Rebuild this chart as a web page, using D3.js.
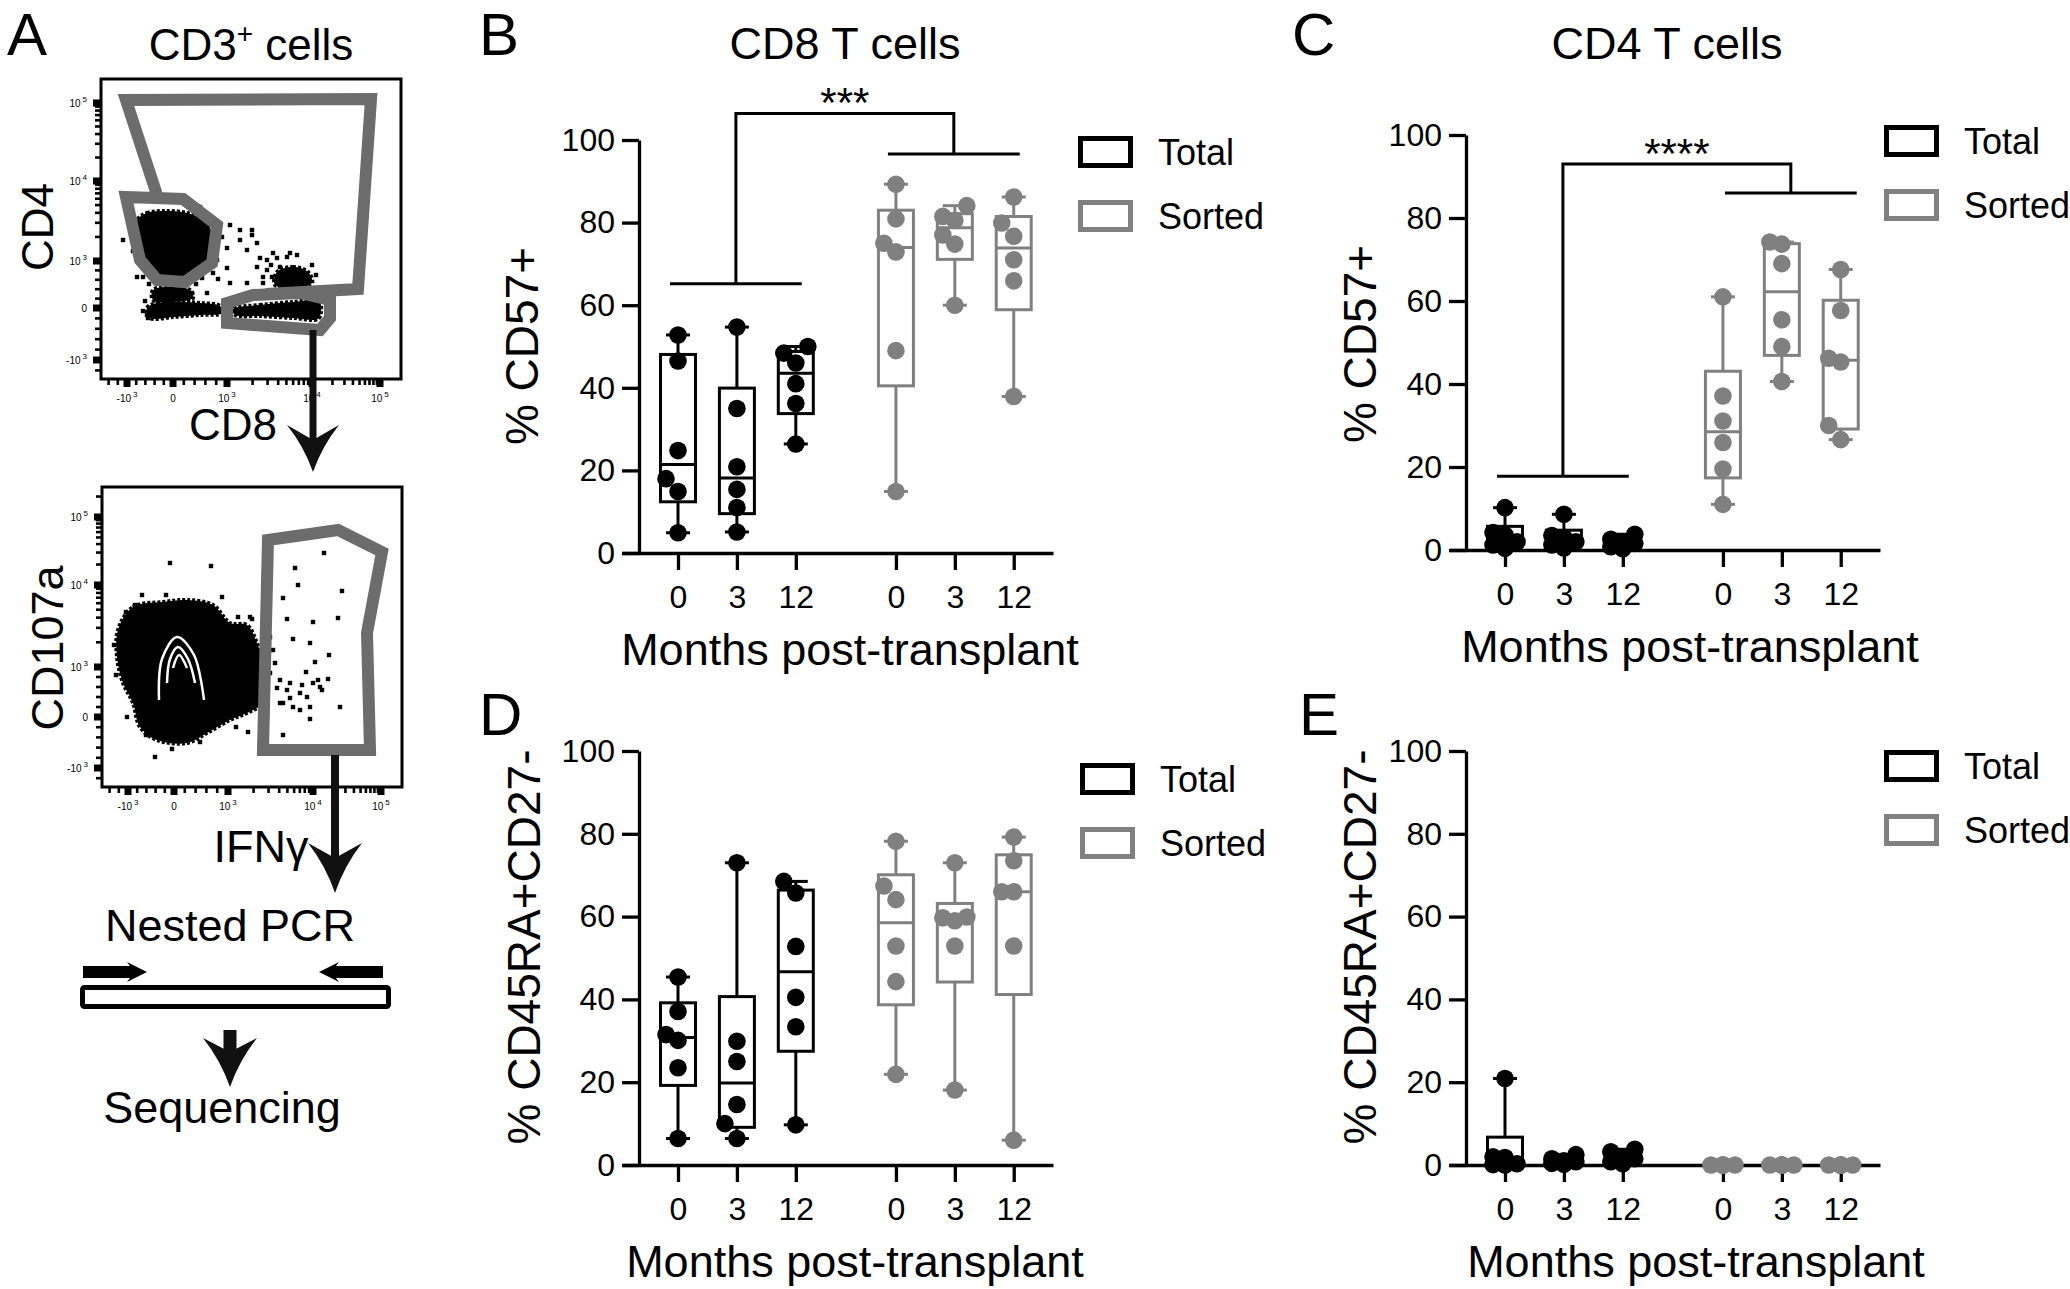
<!DOCTYPE html>
<html><head><meta charset="utf-8">
<script src="https://cdn.jsdelivr.net/npm/d3@7"></script>
<style>
html,body{margin:0;padding:0;background:#fff;}
svg{display:block;font-family:"Liberation Sans",Arial,Helvetica,sans-serif;}
</style></head><body>
<svg id="fig" width="2070" height="1289"></svg>
<script>
// ---------------- DATA ----------------
const months = ["0", "3", "12"];
const groups = ["Total", "Sorted"];
const yTicks = [0, 20, 40, 60, 80, 100];

// B: CD8 T cells, % CD57+  (one array per time point: 0, 3, 12 months)
const cd8CD57Total  = [[52.8, 46.5, 24.8, 18.0, 14.9, 4.9], [54.7, 35.0, 20.9, 15.4, 11.0, 5.1], [50.0, 48.4, 46.0, 41.0, 36.2, 26.4]];
const cd8CD57Sorted = [[89.3, 80.9, 75.0, 72.9, 49.0, 14.9], [84.1, 81.5, 80.5, 77.0, 74.8, 60.0], [86.2, 79.9, 76.7, 71.0, 65.9, 37.9]];
// C: CD4 T cells, % CD57+
const cd4CD57Total  = [[10.2, 4.2, 3.6, 2.0, 1.2, 0.4], [8.6, 3.5, 3.0, 2.0, 1.2, 0.5], [3.8, 2.6, 2.0, 1.6, 0.8, 0.3]];
const cd4CD57Sorted = [[61.0, 37.1, 31.1, 25.9, 19.5, 11.0], [74.2, 73.7, 69.0, 55.5, 49.0, 40.6], [67.6, 57.7, 46.2, 45.3, 30.0, 26.6]];
// D: CD8, % CD45RA+CD27-
const cd8TemraTotal  = [[45.4, 37.1, 31.5, 30.1, 23.5, 6.4], [73.0, 29.9, 25.0, 14.6, 10.0, 6.4], [68.5, 65.7, 52.8, 40.5, 33.4, 9.7]];
const cd8TemraSorted = [[78.2, 67.4, 64.1, 52.9, 44.3, 21.9], [73.0, 59.9, 59.7, 59.0, 52.9, 18.1], [79.2, 73.5, 66.0, 66.0, 52.9, 6.0]];
// E: CD4, % CD45RA+CD27-
const cd4TemraTotal  = [[20.9, 2.0, 1.8, 0.3, 0.1, 0.0], [2.5, 1.5, 1.0, 0.8, 0.4, 0.2], [3.8, 3.2, 2.0, 1.5, 0.8, 0.3]];
const cd4TemraSorted = [[0, 0, 0, 0, 0, 0], [0, 0, 0, 0, 0, 0], [0, 0, 0, 0, 0, 0]];

// significance brackets: [left bar value, top bar value, right bar value]
const bracketCD8 = [65.2, 106.4, 96.6];
const bracketCD4 = [17.8, 93.0, 86.0];
const starsCD8 = "***";
const starsCD4 = "****";

// Panel A flow plots (plot-local units, 0..300 from top-left of the frame)
const flowTickLabelsY1 = [["5", 24], ["4", 102], ["3", 182], ["0", 229], ["-3", 281]];
const flowTickLabelsY2 = [["5", 30], ["4", 98], ["3", 180], ["0", 230], ["-3", 281]];
const flowTickLabelsX  = [["-3", 26], ["0", 72], ["3", 126], ["4", 211], ["5", 279]];

const cd4Cloud = [[36,141],[46,134],[66,132],[86,134],[102,141],[111,154],[109,174],[99,191],[79,198],[56,196],[39,184],[34,164]];
const cd8Cloud = [[132,230],[159,226],[192,223],[218,222],[220,233],[217,240],[192,239],[159,237],[134,236]];
const dnCloud = [[46,229],[56,224],[79,223],[99,224],[119,227],[121,234],[99,236],[72,238],[49,239]];
const dnUpperCloud = [[52,211],[72,208],[89,211],[92,219],[72,223],[52,221]];
const dpCloud = [[176,193],[192,188],[207,193],[211,204],[192,209],[174,206]];
const cd3Dots = [[57,111],[99,128],[101,134],[129,146],[139,151],[151,151],[151,156],[121,158],[126,169],[146,171],
  [159,179],[166,181],[172,174],[176,179],[189,174],[196,176],[211,186],[179,188],[166,191],[156,188],[116,181],
  [126,189],[112,194],[101,199],[129,204],[146,204],[162,204],[106,214],[91,214],[42,198],[36,198],[22,161],
  [46,236],[47,239],[162,198],[186,178],[112,174],[139,161],[156,164],[201,201],[171,198],
  [31,150],[32,172],[114,160],[117,200],[95,205],[48,205],[44,222],[42,232],[124,222],[127,236],[170,186],[215,196],[205,210],[182,200]];
const bigGate = [[56,116],[25,21],[270,20],[257,210],[165,215]];
const cd4Gate = [[25,118],[82,120],[116,146],[111,184],[84,203],[56,201],[39,181]];
const cd8Gate = [[126,224],[152,216],[199,214],[229,221],[229,239],[219,251],[126,244]];

const ifnCloud = [[16,143],[31,120],[61,115],[85,113],[111,118],[128,136],[145,138],[155,156],[161,176],[165,196],
  [161,216],[145,226],[128,233],[105,246],[85,256],[55,253],[38,240],[31,216],[21,196],[15,170]];
const ifnDots = [[68,76],[109,79],[222,66],[193,81],[196,98],[181,111],[240,104],[185,132],[211,135],[236,131],
  [191,152],[208,156],[227,168],[213,175],[204,185],[226,192],[218,200],[238,220],[208,232],[181,248],[146,245],
  [53,270],[33,118],[188,196],[198,206],[178,216],[148,130],[171,163],[173,176],[178,193],[185,203],[188,211],
  [200,198],[205,210],[211,196],[216,193],[220,203],[181,216],[191,220],[198,223],[208,220],[175,201],
  [24,125],[12,158],[40,108],[64,108],[120,110],[136,130],[150,132],[168,150],[168,186],[160,228],[134,240],[98,255],[70,262],[44,248],[25,230],[14,188]];
const ifnContours = [[[57,213],[60,172],[75,150],[92,168],[102,213]],[[65,196],[68,172],[76,160],[86,172],[93,196]],[[71,181],[77,168],[85,181]]];
const ifnGate = [[166,53],[236,43],[280,65],[265,146],[268,263],[161,263]];

// ---------------- DRAW ----------------
const svg = d3.select("#fig");
const FONT = '"Liberation Sans", Arial, Helvetica, sans-serif';
const BLACK = "#000", GREY = "#808080", GATE = "#6c6c6c";
const slotPos = [0, 1, 2, 3.7, 4.7, 5.7];

function quant(s, p) {
  const n = s.length, pos = (n + 1) * p, lo = Math.floor(pos), f = pos - lo;
  if (lo < 1) return s[0];
  if (lo >= n) return s[n - 1];
  return s[lo - 1] + f * (s[lo] - s[lo - 1]);
}
function dodge(vals, y, r) {
  const s = 12, thr = 2 * r * 0.88, placed = [];
  const order = vals.map((v, i) => i).sort((a, b) => vals[a] - vals[b]);
  order.forEach(i => {
    const py = y(vals[i]);
    let best = 0, bestD = -1;
    for (const off of [0, -s, s]) {
      let md = Infinity;
      placed.forEach(p => { md = Math.min(md, Math.hypot(p.dx - off, p.py - py)); });
      if (md >= thr) { best = off; bestD = md; break; }
      if (md > bestD) { bestD = md; best = off; }
    }
    placed.push({ dx: best, py: py, v: vals[i] });
  });
  return placed;
}

function text(g, x, y, str, size, anchor, rot) {
  const t = g.append("text").attr("x", x).attr("y", y).attr("font-size", size)
    .attr("font-family", FONT).attr("fill", BLACK).attr("text-anchor", anchor || "middle").text(str);
  if (rot) t.attr("transform", `rotate(${rot},${x},${y})`);
  return t;
}

const panels = [
  { letter: "B", lx: 479, ly: 55, title: "CD8 T cells", ylab: "% CD57+", total: cd8CD57Total, sorted: cd8CD57Sorted,
    ax: 639, y0: 553, y100: 140, legend: [1078, 136], bracket: bracketCD8, stars: starsCD8, rShift: 0,
    titleX: 845, ytX: 538, ytY: 346, xtX: 850 },
  { letter: "C", lx: 1292, ly: 55, title: "CD4 T cells", ylab: "% CD57+", total: cd4CD57Total, sorted: cd4CD57Sorted,
    ax: 1466, y0: 550, y100: 135, legend: [1884, 125], bracket: bracketCD4, stars: starsCD4, rShift: 10,
    titleX: 1667, ytX: 1376, ytY: 344, xtX: 1690 },
  { letter: "D", lx: 479, ly: 735, title: null, ylab: "% CD45RA+CD27-", total: cd8TemraTotal, sorted: cd8TemraSorted,
    ax: 639, y0: 1165, y100: 751, legend: [1080, 763], ytX: 540, ytY: 947, xtX: 855 },
  { letter: "E", lx: 1299, ly: 735, title: null, ylab: "% CD45RA+CD27-", total: cd4TemraTotal, sorted: cd4TemraSorted,
    ax: 1466, y0: 1165, y100: 751, legend: [1884, 750], ytX: 1376, ytY: 947, xtX: 1696 }
];

panels.forEach(cfg => {
  const g = svg.append("g");
  const y = d3.scaleLinear().domain([0, 100]).range([cfg.y0, cfg.y100]);
  const step = 58.9;
  const x = d3.scaleLinear().domain([0, 1]).range([cfg.ax + 39, cfg.ax + 39 + step]);
  const xAxisScale = d3.scaleLinear().domain([x.invert(cfg.ax - 17), x.invert(cfg.ax + 414)]).range([cfg.ax - 17, cfg.ax + 414]);

  text(g, cfg.lx, cfg.ly, cfg.letter, 60, "start");
  if (cfg.title) text(g, cfg.titleX, 59, cfg.title, 45);
  text(g, cfg.ytX, cfg.ytY, cfg.ylab, 46, "middle", -90);
  text(g, cfg.xtX, cfg.y0 + 112, "Months post-transplant", 45);

  const ya = g.append("g").attr("transform", `translate(${cfg.ax},0)`)
    .call(d3.axisLeft(y).tickValues(yTicks).tickSize(17).tickSizeOuter(0).tickPadding(7));
  const xa = g.append("g").attr("transform", `translate(0,${cfg.y0})`)
    .call(d3.axisBottom(xAxisScale).tickValues(slotPos).tickFormat((d, i) => months[i % 3]).tickSize(17).tickSizeOuter(0).tickPadding(15));
  [ya, xa].forEach(a => {
    a.attr("font-size", 32).attr("font-family", FONT);
    a.selectAll("path,line").attr("stroke", BLACK).attr("stroke-width", 3.3);
    a.selectAll("text").attr("fill", BLACK);
  });

  // boxes
  [cfg.total, cfg.sorted].forEach((series, gi) => {
    const col = gi === 0 ? BLACK : GREY;
    series.forEach((vals, mi) => {
      const cx = x(slotPos[gi * 3 + mi]);
      const s = vals.slice().sort((a, b) => a - b);
      const q1 = quant(s, 0.25), med = quant(s, 0.5), q3 = quant(s, 0.75);
      const mn = s[0], mx = s[s.length - 1];
      const bg = g.append("g").attr("stroke", col).attr("stroke-width", 3).attr("fill", "none");
      bg.append("line").attr("x1", cx).attr("x2", cx).attr("y1", y(mn)).attr("y2", y(q1));
      bg.append("line").attr("x1", cx).attr("x2", cx).attr("y1", y(q3)).attr("y2", y(mx));
      bg.append("line").attr("x1", cx - 12).attr("x2", cx + 12).attr("y1", y(mn)).attr("y2", y(mn));
      bg.append("line").attr("x1", cx - 12).attr("x2", cx + 12).attr("y1", y(mx)).attr("y2", y(mx));
      bg.append("rect").attr("x", cx - 17.5).attr("width", 35).attr("y", y(q3)).attr("height", Math.max(0, y(q1) - y(q3)));
      bg.append("line").attr("x1", cx - 17.5).attr("x2", cx + 17.5).attr("y1", y(med)).attr("y2", y(med));
      const pts = dodge(vals, y, 8.8);
      g.append("g").selectAll("circle").data(pts).join("circle")
        .attr("cx", d => cx + d.dx).attr("cy", d => d.py).attr("r", 8.8).attr("fill", col);
    });
  });

  // bracket
  if (cfg.bracket) {
    const [lv, tv, rv] = cfg.bracket;
    const lx0 = x(slotPos[0]) - 8, lx1 = x(slotPos[2]) + 6;
    const rx0 = x(slotPos[3]) - 8 + cfg.rShift, rx1 = x(slotPos[5]) + 6 + cfg.rShift;
    const lm = (lx0 + lx1) / 2, rm = (rx0 + rx1) / 2;
    const p = d3.path();
    p.moveTo(lx0, y(lv)); p.lineTo(lx1, y(lv));
    p.moveTo(lm, y(lv)); p.lineTo(lm, y(tv)); p.lineTo(rm, y(tv)); p.lineTo(rm, y(rv));
    p.moveTo(rx0, y(rv)); p.lineTo(rx1, y(rv));
    g.append("path").attr("d", p.toString()).attr("fill", "none").attr("stroke", BLACK).attr("stroke-width", 3);
    text(g, (lm + rm) / 2, y(tv) - 21 + 0.585 * 42, cfg.stars, 42);
  }

  // legend
  groups.forEach((name, i) => {
    const lx = cfg.legend[0], ly = cfg.legend[1] + i * 64;
    g.append("rect").attr("x", lx + 2.5).attr("y", ly + 2.5).attr("width", 50).attr("height", 27)
      .attr("fill", "#fff").attr("stroke", i === 0 ? BLACK : GREY).attr("stroke-width", 5);
    text(g, lx + 80, ly + 29, name, 36, "start");
  });
});

// ---------------- PANEL A ----------------
const A = svg.append("g");
text(A, 7, 55, "A", 60, "start");
const tA = text(A, 251, 60, "", 44);
tA.append("tspan").text("CD3");
tA.append("tspan").attr("dy", -17).attr("font-size", 28).text("+");
tA.append("tspan").attr("dy", 17).text(" cells");

function minorPositions(pm, p0, p1, p4, p5) {
  const out = [];
  [200, 400, 600, 800].forEach(v => { out.push(p0 + (p1 - p0) * v / 1000); out.push(p0 + (pm - p0) * v / 1000); out.push(pm + (pm - p0) * v / 1000); });
  d3.range(2, 10).forEach(k => { const l = Math.log10(k); out.push(p1 + (p4 - p1) * l); out.push(p4 + (p5 - p4) * l); out.push(p5 + (p5 - p4) * l); });
  return out.filter(p => p > 2 && p < 298);
}

function flowPlot(o) {
  const g = A.append("g");
  const fx = d3.scaleLinear().domain([0, 300]).range([o.x, o.x + 300]);
  const fy = d3.scaleLinear().domain([0, 300]).range([o.y, o.y + 300]);
  const closed = d3.line().x(d => fx(d[0])).y(d => fy(d[1])).curve(d3.curveCatmullRomClosed);
  const poly = d3.line().x(d => fx(d[0])).y(d => fy(d[1])).curve(d3.curveLinearClosed);
  const open = d3.line().x(d => fx(d[0])).y(d => fy(d[1]));
  const smooth = d3.line().x(d => fx(d[0])).y(d => fy(d[1])).curve(d3.curveCatmullRom);

  // tick marks
  const ty = o.ticksY.map(d => d[1]);
  const tx = o.ticksX.map(d => d[1]);
  const minY = minorPositions(ty[4], ty[3], ty[2], ty[1], ty[0]);
  const minX = minorPositions(tx[0], tx[1], tx[2], tx[3], tx[4]);
  g.selectAll(null).data(minY).join("rect").attr("x", o.x - 6).attr("y", d => fy(d) - 1.3).attr("width", 6).attr("height", 2.6).attr("fill", BLACK);
  g.selectAll(null).data(ty).join("rect").attr("x", o.x - 8).attr("y", d => fy(d) - 3.5).attr("width", 8).attr("height", 7).attr("fill", BLACK);
  g.selectAll(null).data(minX).join("rect").attr("x", d => fx(d) - 1.3).attr("y", o.y + 300).attr("width", 2.6).attr("height", 6).attr("fill", BLACK);
  g.selectAll(null).data(tx).join("rect").attr("x", d => fx(d) - 3.5).attr("y", o.y + 300).attr("width", 7).attr("height", 8).attr("fill", BLACK);

  // tick labels
  o.ticksY.forEach(([e, p]) => {
    const t = g.append("text").attr("x", o.x - 14).attr("y", fy(p) + 4).attr("text-anchor", "end")
      .attr("font-size", 10).attr("font-family", FONT).attr("fill", BLACK);
    if (e === "0") t.text("0");
    else { t.append("tspan").text(e[0] === "-" ? "-10" : "10"); t.append("tspan").attr("dy", -5).attr("dx", 2).attr("font-size", 8).text(e.replace("-", "")); }
  });
  o.ticksX.forEach(([e, p]) => {
    const t = g.append("text").attr("x", fx(p)).attr("y", o.y + 300 + 23).attr("text-anchor", "middle")
      .attr("font-size", 10).attr("font-family", FONT).attr("fill", BLACK);
    if (e === "0") t.text("0");
    else { t.append("tspan").text(e[0] === "-" ? "-10" : "10"); t.append("tspan").attr("dy", -5).attr("dx", 2).attr("font-size", 8).text(e.replace("-", "")); }
  });

  o.clouds.forEach(c => g.append("path").attr("d", closed(c)).attr("fill", BLACK)
    .attr("stroke", BLACK).attr("stroke-width", 4).attr("stroke-dasharray", "3 2"));
  g.selectAll(null).data(o.dots).join("rect").attr("x", d => fx(d[0]) - 2.2).attr("y", d => fy(d[1]) - 2.2)
    .attr("width", 4.4).attr("height", 4.4).attr("fill", BLACK);
  (o.contours || []).forEach(c => g.append("path").attr("d", smooth(c)).attr("fill", "none").attr("stroke", "#fff").attr("stroke-width", 2.5));
  (o.gates || []).forEach(c => g.append("path").attr("d", poly(c)).attr("fill", "none").attr("stroke", GATE).attr("stroke-width", 12).attr("stroke-linejoin", "miter"));
  (o.openGates || []).forEach(c => g.append("path").attr("d", open(c)).attr("fill", "none").attr("stroke", GATE).attr("stroke-width", 12).attr("stroke-linejoin", "miter"));
  g.append("rect").attr("x", o.x).attr("y", o.y).attr("width", 300).attr("height", 300).attr("fill", "none").attr("stroke", BLACK).attr("stroke-width", 3);
}

flowPlot({ x: 101, y: 79, ticksY: flowTickLabelsY1, ticksX: flowTickLabelsX,
  clouds: [cd4Cloud, cd8Cloud, dnCloud, dnUpperCloud, dpCloud], dots: cd3Dots,
  gates: [cd4Gate, cd8Gate], openGates: [bigGate] });
flowPlot({ x: 102, y: 487, ticksY: flowTickLabelsY2, ticksX: flowTickLabelsX,
  clouds: [ifnCloud], dots: ifnDots, contours: ifnContours, gates: [ifnGate] });

text(A, 53, 227, "CD4", 44, "middle", -90);
text(A, 233, 440, "CD8", 44);
text(A, 63, 648, "CD107a", 45, "middle", -90);
text(A, 261, 862, "IFNγ", 45);
text(A, 230, 941, "Nested PCR", 45);
text(A, 222, 1123, "Sequencing", 45);

function arrow(cx, y0, y1, w, tip, barb, notch, hw) {
  A.append("rect").attr("x", cx - w / 2).attr("y", y0).attr("width", w).attr("height", y1 - y0).attr("fill", "#111");
  const p = d3.path();
  p.moveTo(cx, tip);
  p.quadraticCurveTo(cx - hw * 0.35, barb + (tip - barb) * 0.45, cx - hw, barb);
  p.lineTo(cx, notch);
  p.lineTo(cx + hw, barb);
  p.quadraticCurveTo(cx + hw * 0.35, barb + (tip - barb) * 0.45, cx, tip);
  p.closePath();
  A.append("path").attr("d", p.toString()).attr("fill", "#111");
}
arrow(313, 330, 445, 7, 472, 425, 440, 26);
arrow(335, 755, 862, 8, 893, 843, 858, 27);
arrow(230, 1030, 1052, 13, 1087, 1038, 1052, 27);

// primers and template
A.append("path").attr("d", "M83,966 L130,966 L127,962 L147,972 L127,982 L130,978 L83,978 Z").attr("fill", BLACK);
A.append("path").attr("d", "M383,966 L336,966 L339,962 L319,972 L339,982 L336,978 L383,978 Z").attr("fill", BLACK);
A.append("rect").attr("x", 82.5).attr("y", 987.5).attr("width", 306).attr("height", 19).attr("rx", 2)
  .attr("fill", "#fff").attr("stroke", BLACK).attr("stroke-width", 5);
</script>
</body></html>
